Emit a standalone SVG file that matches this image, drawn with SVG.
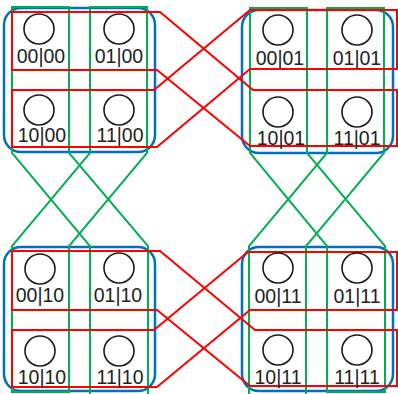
<svg xmlns="http://www.w3.org/2000/svg" width="398" height="394" viewBox="0 0 398 394">
<style>
.bg{fill:#ffffff}
.blk{fill:none;stroke:#0070C0;stroke-width:2.5}
.g{fill:none;stroke:#00B050;stroke-width:2;stroke-linejoin:miter}
.r{fill:none;stroke:#FF0000;stroke-width:2;stroke-linejoin:miter}
.c{fill:none;stroke:#1a1a1a;stroke-width:1.6}
.t{font-family:"Liberation Sans",Arial,sans-serif;font-size:19.5px;fill:#222222;text-anchor:middle}
</style>
<rect class="bg" x="0" y="0" width="398" height="394"/>
<g id="blocks">
<rect class="blk" x="4" y="8" width="151" height="144" rx="17"/>
<rect class="blk" x="242" y="10" width="151" height="143" rx="17"/>
<rect class="blk" x="4" y="247" width="151" height="144" rx="17"/>
<rect class="blk" x="242" y="247" width="151" height="144" rx="17"/>
</g>
<g id="connectors">
<polygon class="g" points="12,7 69,7 69,153 148,246 148,397 90,397 90,246 12,153"/>
<polygon class="g" points="90,7 147,7 147,153 69,246 69,392 12,392 12,246 90,153"/>
<polygon class="g" points="250,8 307,8 307,153 385,246 385,392 327,392 327,246 250,153"/>
<polygon class="g" points="327,8 384,8 384,153 306,246 306,397 249,397 249,246 327,153"/>
<polygon class="r" points="12,12 160,12 253,90 397,90 397,146 250,146 157,70 12,70"/>
<polygon class="r" points="12,90 154,90 250,10 397,10 397,69 250,69 157,147 12,147"/>
<polygon class="r" points="12,251 160,251 255,330 397,330 397,386 250,386 157,310 12,310"/>
<polygon class="r" points="12,330 154,330 248,252 397,252 397,310 250,310 157,387 12,387"/>
</g>
<g id="n0000"><circle class="c" cx="39" cy="29" r="15"/><text class="t" x="41" y="63">00|00</text></g>
<g id="n0100"><circle class="c" cx="119" cy="29" r="15"/><text class="t" x="119" y="63">01|00</text></g>
<g id="n1000"><circle class="c" cx="39" cy="110" r="15"/><text class="t" x="42" y="142">10|00</text></g>
<g id="n1100"><circle class="c" cx="119" cy="110" r="15"/><text class="t" x="120" y="142">11|00</text></g>
<g id="n0001"><circle class="c" cx="278" cy="30" r="15"/><text class="t" x="280" y="65">00|01</text></g>
<g id="n0101"><circle class="c" cx="357" cy="30" r="15"/><text class="t" x="357" y="65">01|01</text></g>
<g id="n1001"><circle class="c" cx="278" cy="112" r="15"/><text class="t" x="281" y="145">10|01</text></g>
<g id="n1101"><circle class="c" cx="357" cy="112" r="15"/><text class="t" x="357" y="145">11|01</text></g>
<g id="n0010"><circle class="c" cx="40" cy="269" r="15"/><text class="t" x="40" y="302">00|10</text></g>
<g id="n0110"><circle class="c" cx="119" cy="268" r="15"/><text class="t" x="118" y="302">01|10</text></g>
<g id="n1010"><circle class="c" cx="40" cy="351" r="15"/><text class="t" x="42" y="384">10|10</text></g>
<g id="n1110"><circle class="c" cx="119" cy="351" r="15"/><text class="t" x="120" y="384">11|10</text></g>
<g id="n0011"><circle class="c" cx="278" cy="268" r="15"/><text class="t" x="278" y="303">00|11</text></g>
<g id="n0111"><circle class="c" cx="357" cy="268" r="15"/><text class="t" x="357" y="303">01|11</text></g>
<g id="n1011"><circle class="c" cx="278" cy="350" r="15"/><text class="t" x="278" y="384">10|11</text></g>
<g id="n1111"><circle class="c" cx="357" cy="350" r="15"/><text class="t" x="357" y="384">11|11</text></g>
</svg>
